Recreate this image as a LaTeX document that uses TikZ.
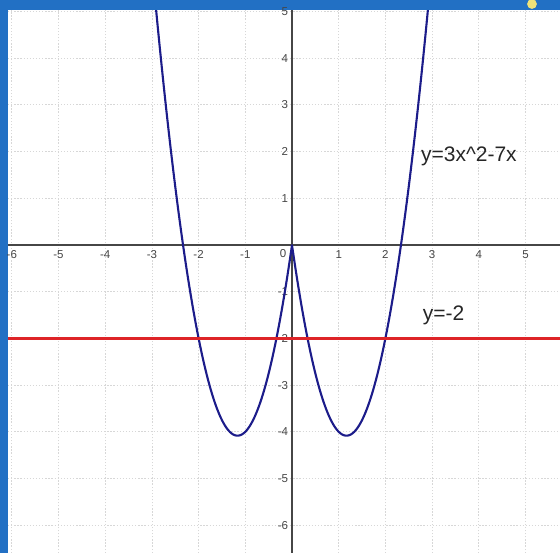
\documentclass[tikz,border=0pt]{standalone}
\usepackage{fontspec}
\setmainfont{Liberation Sans}
\definecolor{bordercol}{RGB}{34,112,196}
\definecolor{gridcol}{RGB}{215,215,215}
\definecolor{axiscol}{RGB}{70,70,70}
\definecolor{curvecol}{RGB}{28,28,138}
\definecolor{redcol}{RGB}{222,36,40}
\definecolor{tickcol}{RGB}{70,70,70}
\definecolor{dotcol}{RGB}{240,226,120}
\begin{document}
\begin{tikzpicture}[x=46.7pt,y=46.7pt,
  gridline/.style={draw=gridcol,line width=0.8pt,dash pattern=on 1.3pt off 1.8pt},
  axisline/.style={draw=axiscol,line width=1.1pt},
  curveline/.style={draw=curvecol,line width=2.1pt,line join=round},
  redline/.style={draw=redcol,line width=2.3pt},
  ticklab/.style={text=tickcol,font=\fontsize{11.5}{13}\selectfont,inner sep=0pt},
  eqlab/.style={text=black!85,font=\fontsize{21}{25}\selectfont,inner sep=0pt,anchor=base west}]
\useasboundingbox (-6.253,-6.595) rectangle (5.739,5.246);
% border and paper
\fill[bordercol] (-6.253,-6.595) rectangle (5.739,5.246);
\fill[white] (-6.08,-6.595) rectangle (5.739,5.03);
\fill[dotcol] (5.139,5.16) circle (0.105);
% grid
\foreach \i in {-6,...,5} {
  \draw[gridline] (\i,-6.595) -- (\i,5.03);
  \draw[gridline] (-6.08,\i) -- (5.739,\i);
}
% axes
\coordinate (xa) at (-6.08,0);
\coordinate (xb) at (5.739,0);
\coordinate (ya) at (0,-6.595);
\coordinate (yb) at (0,5.03);
\draw[axisline] (xa) -- (xb);
\draw[axisline] (ya) -- (yb);
% tick labels
\foreach \i in {-6,-5,-4,-3,-2,-1,1,2,3,4,5}
  \node[ticklab] (xl\i) at (\i,-0.2) {\i};
\node[ticklab] (zero) at (-0.19,-0.19) {0};
\foreach \j in {5,4,3,2,1,-1,-2,-3,-4,-5,-6}
  \node[ticklab,anchor=east] (yl\j) at (-0.08,\j) {\j};
% curve
\begin{scope}
  \clip (-6.08,-6.595) rectangle (5.739,5.03);
  \draw[curveline] plot[domain=-3:3,samples=241] (\x,{3*\x*\x-7*abs(\x)});
\end{scope}
% line y=-2
\coordinate (ra) at (-6.08,-2);
\coordinate (rb) at (5.739,-2);
\draw[redline] (ra) -- (rb);
% equation labels
\node[eqlab] (eq1) at (2.76,1.79) {y=3x\^{}2-7x};
\node[eqlab] (eq2) at (2.80,-1.61) {y=-2};
\end{tikzpicture}
\end{document}
